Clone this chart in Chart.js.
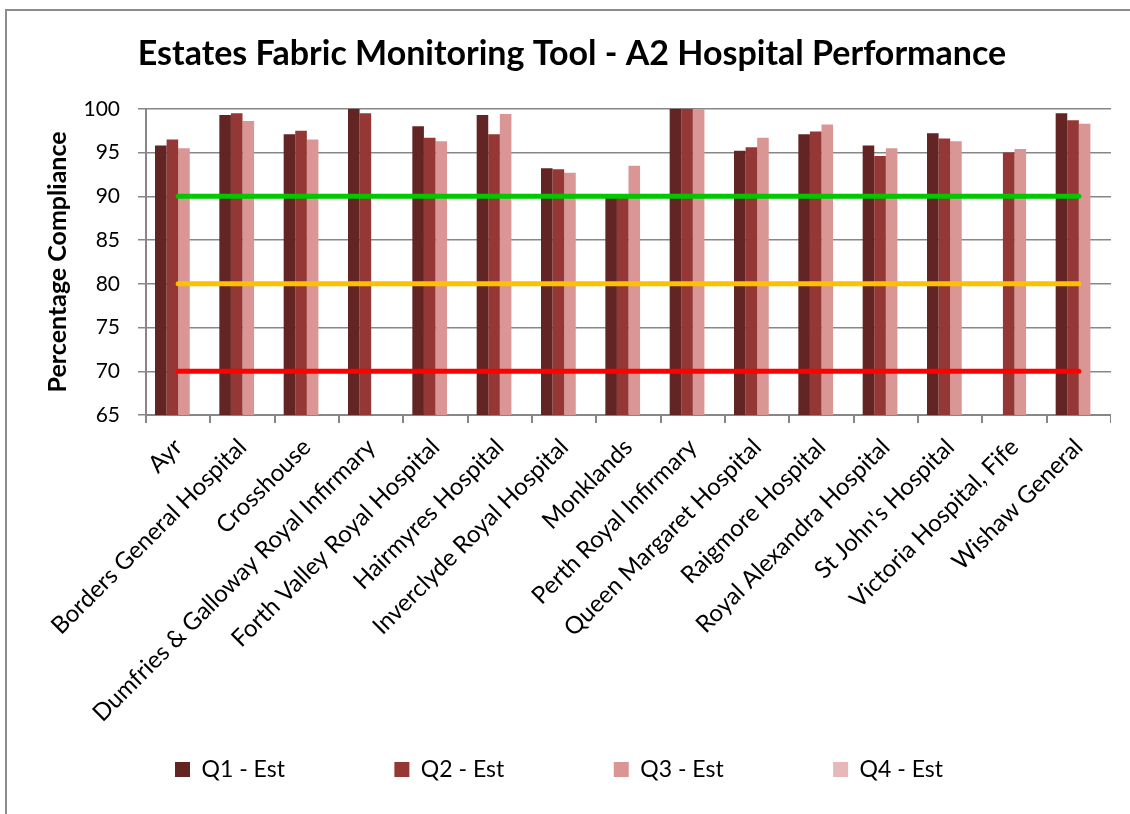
<!DOCTYPE html>
<html>
<head>
<meta charset="utf-8">
<script src="https://cdn.jsdelivr.net/npm/chart.js@4.4.1/dist/chart.umd.min.js"></script>
<style>
  html, body { margin: 0; padding: 0; background: #fff; overflow: hidden; }
  #frame { position: absolute; left: 5px; top: 9px; width: 1300px; height: 1000px; border: 2px solid #8c8c8c; }
  #wrap { position: absolute; left: 0; top: 0; width: 1111px; height: 814px; }
</style>
</head>
<body>
<div id="frame"></div>
<div id="wrap"><canvas id="chart" width="1111" height="814"></canvas></div>
<script>
const hospitals = [
  "Ayr", "Borders General Hospital", "Crosshouse", "Dumfries & Galloway Royal Infirmary",
  "Forth Valley Royal Hospital", "Hairmyres Hospital", "Inverclyde Royal Hospital", "Monklands",
  "Perth Royal Infirmary", "Queen Margaret Hospital", "Raigmore Hospital", "Royal Alexandra Hospital",
  "St John's Hospital", "Victoria Hospital, Fife", "Wishaw General"
];

// quarterly estimates (% compliance)
const q1Est = [95.8, 99.3, 97.1, 100, 98.0, 99.3, 93.2, 90.0, 100, 95.2, 97.1, 95.8, 97.2, null, 99.5];
const q2Est = [96.5, 99.5, 97.5, 99.5, 96.7, 97.1, 93.1, 90.0, 100, 95.6, 97.4, 94.6, 96.6, 95.0, 98.7];
const q3Est = [95.5, 98.6, 96.5, null, 96.3, 99.4, 92.7, 93.5, 100, 96.7, 98.2, 95.5, 96.3, 95.4, 98.3];
const q4Est = [null, null, null, null, null, null, null, null, null, null, null, null, null, null, null];

// threshold lines
const greenLine = [90, 90, 90, 90, 90, 90, 90, 90, 90, 90, 90, 90, 90, 90, 90];
const amberLine = [80, 80, 80, 80, 80, 80, 80, 80, 80, 80, 80, 80, 80, 80, 80];
const redLine   = [70, 70, 70, 70, 70, 70, 70, 70, 70, 70, 70, 70, 70, 70, 70];

const yTicks = [65, 70, 75, 80, 85, 90, 95, 100];

const FONT = "Lato";
const GREY = "#878787";

function threshold(label, data, colour) {
  return {
    type: "line",
    label: label,
    data: data,
    borderColor: colour,
    backgroundColor: colour,
    borderWidth: 5,
    borderCapStyle: "round",
    pointRadius: 0,
    fill: false
  };
}

function quarter(label, data, colour) {
  return {
    label: label,
    data: data,
    backgroundColor: colour,
    categoryPercentage: 0.72,
    barPercentage: 1.0
  };
}

new Chart(document.getElementById("chart"), {
  type: "bar",
  data: {
    labels: hospitals,
    datasets: [
      threshold("Green", greenLine, "#00c800"),
      threshold("Amber", amberLine, "#ffc000"),
      threshold("Red", redLine, "#ff0000"),
      quarter("Q1 - Est", q1Est, "#632523"),
      quarter("Q2 - Est", q2Est, "#953735"),
      quarter("Q3 - Est", q3Est, "#d99694"),
      quarter("Q4 - Est", q4Est, "#e6b9b8")
    ]
  },
  options: {
    responsive: false,
    animation: false,
    layout: { padding: { left: 33, right: 0, top: 0, bottom: 23 } },
    plugins: {
      tooltip: { enabled: false },
      title: {
        display: true,
        text: "Estates Fabric Monitoring Tool - A2 Hospital Performance",
        color: "#000",
        font: { family: FONT, size: 34, weight: "bold" },
        padding: { top: 34, bottom: 34 }
      },
      legend: {
        position: "bottom",
        align: "start",
        fullSize: false,
        labels: {
          boxWidth: 15,
          boxHeight: 15,
          padding: 29,
          color: "#000",
          font: { family: FONT, size: 23 },
          filter: item => item.datasetIndex >= 3,
          generateLabels: chart => {
            const items = Chart.defaults.plugins.legend.labels.generateLabels(chart);
            items.forEach(it => { it.text = it.text + "\u2002".repeat(7); });
            return items;
          }
        }
      }
    },
    scales: {
      x: {
        grid: { offset: true, drawOnChartArea: false, drawTicks: true, tickLength: 8, color: GREY, lineWidth: 2 },
        border: { color: GREY, width: 2 },
        ticks: {
          autoSkip: false,
          minRotation: 45,
          maxRotation: 45,
          padding: 10,
          color: "#000",
          font: { family: FONT, size: 24 }
        },
        afterFit: s => { s.height = 314; }
      },
      y: {
        min: 65,
        max: 100,
        afterBuildTicks: s => { s.ticks = yTicks.map(v => ({ value: v })); },
        grid: { color: GREY, lineWidth: 1.5, tickLength: 8 },
        border: { color: GREY, width: 2 },
        ticks: { padding: 18, color: "#000", font: { family: FONT, size: 21 } },
        title: {
          display: true,
          text: "Percentage Compliance",
          color: "#000",
          font: { family: FONT, size: 25, weight: "bold" },
          padding: { top: 9.5, bottom: 0 }
        },
        afterFit: s => { s.width = 113; }
      }
    }
  }
});
</script>
</body>
</html>
